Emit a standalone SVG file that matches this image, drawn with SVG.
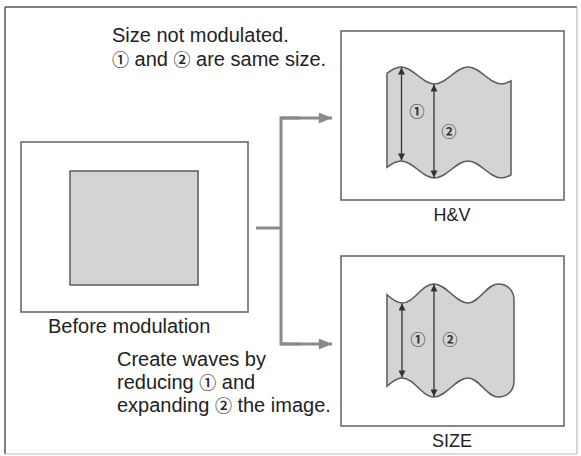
<svg xmlns="http://www.w3.org/2000/svg" width="581" height="456" viewBox="0 0 581 456">
<style>
  .txt { font-family: "Liberation Sans", "Noto Sans CJK JP", sans-serif; font-size: 20px; fill: #222; }
  .c { font-family: "Noto Sans CJK JP", "DejaVu Sans", sans-serif; font-size: 17px; font-weight: 500; fill: #222; }
  .lbl { font-family: "Liberation Sans", "DejaVu Sans", sans-serif; font-size: 18px; fill: #222; text-anchor: middle; }
  .num { font-family: "Noto Sans CJK JP", "DejaVu Sans", sans-serif; font-size: 15px; font-weight: 700; fill: #333; text-anchor: middle; }
  .box { fill: #fff; stroke: #6a6a6a; stroke-width: 1.6; }
  .img { fill: #d4d4d4; stroke: #5a5a5a; stroke-width: 1.5; }
  .dim { stroke: #333; stroke-width: 1.3; fill: none; marker-start: url(#tri); marker-end: url(#tri); }
  .conn { stroke: #8a8a8a; stroke-width: 3; fill: none; }
</style>
<defs>
  <marker id="tri" viewBox="0 0 10 10" refX="10" refY="5" markerWidth="8" markerHeight="7" markerUnits="userSpaceOnUse" orient="auto-start-reverse">
    <path d="M0,0 L10,5 L0,10 Z" fill="#333"/>
  </marker>
  <marker id="conArrow" viewBox="0 0 12 10" refX="12" refY="5" markerWidth="14" markerHeight="11" markerUnits="userSpaceOnUse" orient="auto">
    <path d="M0,0 L12,5 L0,10 Z" fill="#8a8a8a"/>
  </marker>
</defs>

<g id="frame">
  <line x1="5" y1="7" x2="577" y2="7" stroke="#555" stroke-width="1.5"/>
  <line x1="5" y1="7" x2="5" y2="454" stroke="#555" stroke-width="1.5"/>
  <line x1="577" y1="7" x2="577" y2="454" stroke="#bbb" stroke-width="1.2"/>
  <line x1="5" y1="454" x2="577" y2="454" stroke="#bbb" stroke-width="1.2"/>
</g>

<g id="before">
  <rect class="box" x="21" y="142" width="227" height="170"/>
  <rect class="img" x="70" y="171" width="128" height="114"/>
  <text class="txt" x="48" y="333">Before modulation</text>
</g>

<g id="connectors">
  <polyline class="conn" points="256,228 281,228"/>
  <polyline class="conn" points="300,118 281,118 281,344 300,344"/>
  <line class="conn" x1="281" y1="118" x2="332" y2="118" marker-end="url(#conArrow)"/>
  <line class="conn" x1="281" y1="344" x2="332" y2="344" marker-end="url(#conArrow)"/>
</g>

<g id="note-top">
  <text class="txt" x="112" y="42">Size not modulated.</text>
  <text class="txt" x="112" y="66"><tspan class="c">①</tspan> and <tspan class="c">②</tspan> are same size.</text>
</g>

<g id="hv">
  <rect class="box" x="341" y="31" width="223" height="169"/>
  <path class="img" d="M387,73.3 C391.7,69.7 396.3,67 401,67 C413.2,67 422.3,84 434.5,84 C446.7,84 455.8,67 468,67 C480.2,67 489.3,84 501.5,84 C504.7,84 507.8,82.8 511,80.9 L511,174.9 C507.8,176.8 504.7,178 501.5,178 C489.3,178 480.2,161 468,161 C455.8,161 446.7,178 434.5,178 C422.3,178 413.2,161 401,161 C396.3,161 391.7,163.7 387,167.3 Z"/>
  <line class="dim" x1="401.5" y1="67.5" x2="401.5" y2="160.5"/>
  <line class="dim" x1="434" y1="84.5" x2="434" y2="177.5"/>
  <text class="num" x="417" y="117">①</text>
  <text class="num" x="449" y="137">②</text>
  <text class="lbl" x="452" y="221">H&amp;V</text>
</g>

<g id="size">
  <rect class="box" x="341" y="256" width="223" height="170"/>
  <path class="img" d="M387,294.8 C392,299.3 397,303 402,303 C414,303 422,284 434,284 C446,284 456,303 468,303 C478.9,303 487.1,284 498,284 C507,284 514,290 514,300 L514,381 C514,391 507,397 498,397 C487.1,397 478.9,378 468,378 C456,378 446,397 434,397 C422,397 414,378 402,378 C397,378 392,381.7 387,386.2 Z"/>
  <line class="dim" x1="402" y1="303.5" x2="402" y2="377.5"/>
  <line class="dim" x1="434" y1="284.5" x2="434" y2="396.5"/>
  <text class="num" x="418" y="345">①</text>
  <text class="num" x="450" y="345">②</text>
  <text class="lbl" x="452" y="447">SIZE</text>
</g>

<g id="note-bottom">
  <text class="txt" x="117" y="366">Create waves by</text>
  <text class="txt" x="117" y="389">reducing <tspan class="c">①</tspan> and</text>
  <text class="txt" x="117" y="412">expanding <tspan class="c">②</tspan> the image.</text>
</g>
</svg>
